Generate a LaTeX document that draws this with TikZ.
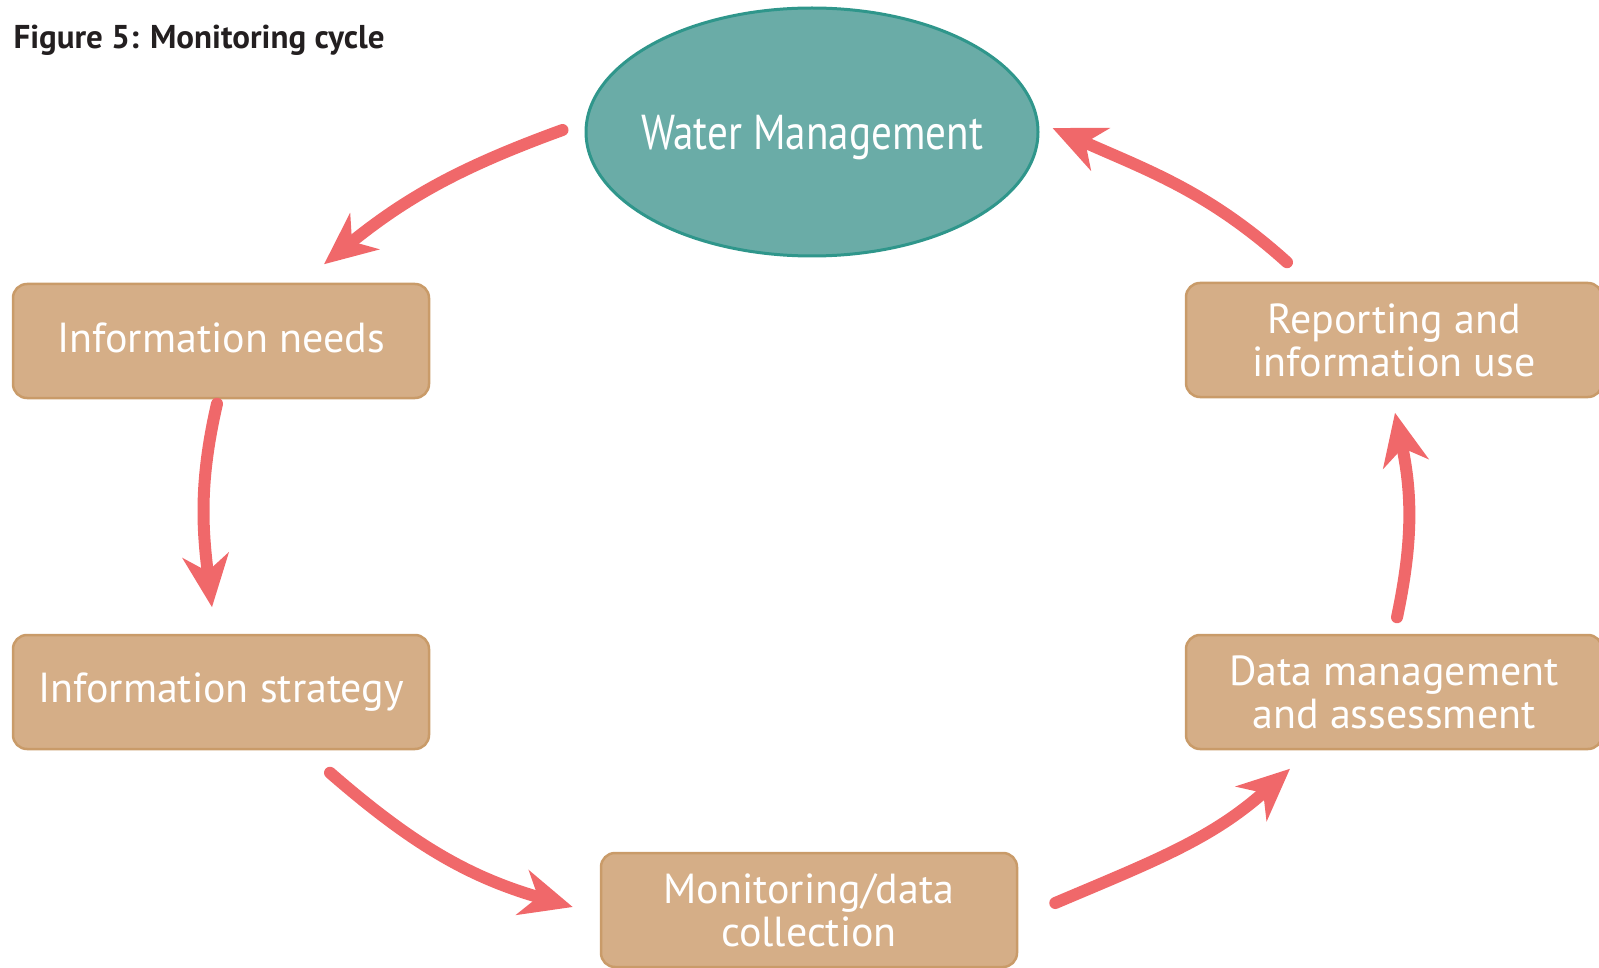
\documentclass[tikz,border=0pt]{standalone}
\usepackage{fontspec}
\setmainfont{PT Sans}
\newfontfamily\narrowfont[FakeStretch=0.84]{PT Sans}
\usetikzlibrary{arrows.meta,shapes.geometric}

\definecolor{wmfill}{HTML}{6AACA7}
\definecolor{wmline}{HTML}{2F968B}
\definecolor{boxfill}{HTML}{D5AE87}
\definecolor{boxline}{HTML}{C99B69}
\definecolor{arrowred}{HTML}{F0686A}
\definecolor{titlegray}{HTML}{231F20}

\begin{document}
\begin{tikzpicture}[x=1pt,y=1pt]
    \tikzset{
      stage/.style={draw=boxline,line width=2.5pt,fill=boxfill,rounded corners=14pt,
        minimum width=416pt,minimum height=114pt,inner sep=0pt,
        text=white,align=center,font=\fontsize{42}{43}\selectfont},
      goal/.style={ellipse,draw=wmline,line width=3pt,fill=wmfill,
        minimum width=452pt,minimum height=248pt,inner xsep=-40pt,inner ysep=0pt,text depth=0pt,
        text=white,font=\narrowfont\fontsize{49}{52}\selectfont},
      cycle/.style={draw=arrowred,line width=12pt,line cap=round,
        -{Stealth[length=52pt,width=46pt,inset=16pt]}}
    }
    \useasboundingbox (0,0) rectangle (1599,-968);

        %TITLE
        \node[anchor=west,text=titlegray,font=\bfseries\fontsize{33}{35}\selectfont] (title) at (10,-40) {Figure 5: Monitoring cycle};

        %CENTRE OF THE CYCLE
        \node[goal] (wm) at (812,-132) {Water Management};

        %STAGES
        \node[stage] (need)  at (221,-341)  {\raisebox{7pt}{Information needs}};
        \node[stage] (strat) at (221,-692)  {\raisebox{7pt}{Information strategy}};
        \node[stage] (mon)   at (809,-910)  {Monitoring/data\\collection};
        \node[stage] (dat)   at (1394,-692) {Data management\\and assessment};
        \node[stage] (rep)   at (1394,-340) {Reporting and\\information use};

      \draw[cycle] ([shift={(-22,2)}]wm.west) to[out=200,in=39] ([shift={(103,18.5)}]need.north);
      \draw[cycle] ([shift={(-4,-4.5)}]need.south) to[out=257,in=97] ([shift={(-9,26.5)}]strat.north);
      \draw[cycle] ([shift={(109,-22.5)}]strat.south) to[out=-41,in=164] ([shift={(-27,3)}]mon.west);
      \draw[cycle] ([shift={(37,7)}]mon.east) to[out=23,in=222] ([shift={(-104,-18.5)}]dat.south);
      \draw[cycle] ([shift={(3,16.5)}]dat.north) to[out=78,in=-78] ([shift={(1,-14.5)}]rep.south);
      \draw[cycle] ([shift={(-107,19.5)}]rep.north) to[out=138,in=-24] ([shift={(13,4)}]wm.east);
    \end{tikzpicture}
\end{document}
